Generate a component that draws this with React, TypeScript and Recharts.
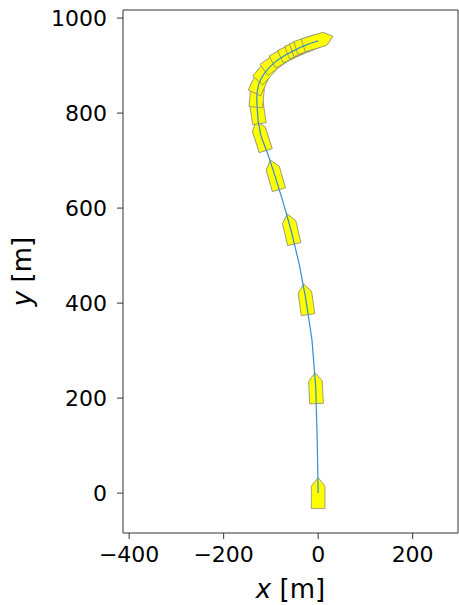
import React from 'react';
import {
  ComposedChart, Scatter, XAxis, YAxis, ReferenceArea, Label
} from 'recharts';

// trajectory of the vessel [m]
const pathX = [0, -2, -5, -13, -26, -40, -58, -75, -92, -107, -121, -127, -129, -130, -129, -126, -121, -114, -106, -97, -88, -68, -50, -34, -16, 0];
const pathY = [0, 112, 221, 322, 408, 482, 556, 615, 670, 715, 752, 782, 810, 830, 845, 860, 872, 883, 893, 902, 910, 923, 932, 940, 947, 952];

// ship snapshots: position [m] and heading [deg, clockwise from north]
const shipX = [0, -5, -26, -58, -92, -121, -129, -129, -121, -106, -88, -68, -50, -35, -25, -16, 0];
const shipY = [0, 221, 408, 556, 670, 752, 810, 845, 872, 893, 910, 923, 932, 939, 943, 947, 952];
const shipHeading = [0, -3, -8, -13, -16, -18, -8, 5, 25, 42, 54, 62, 66, 69, 71, 72, 73];

const xTicks = [-400, -200, 0, 200];
const yTicks = [0, 200, 400, 600, 800, 1000];
const X_DOMAIN: [number, number] = [-413, 296];
const Y_DOMAIN: [number, number] = [-84, 1017];

const path = pathX.map((x, i) => ({ x, y: pathY[i] }));
const ships = shipX.map((x, i) => ({ x, y: shipY[i], heading: shipHeading[i] }));

const FONT = '"DejaVu Sans", sans-serif';
const fmt = (v: number) => String(v).replace('-', '\u2212');

// ship outline in pixels, bow pointing up
const L = 15.5, B = 6.8, S = 7;
const shipPoints = `0,${-L} ${B},${-S} ${B},${L} ${-B},${L} ${-B},${-S}`;

const ShipShape = (props: any) => {
  const { cx, cy, payload } = props;
  if (cx == null || cy == null) return <g />;
  return (
    <polygon
      points={shipPoints}
      transform={`translate(${cx},${cy}) rotate(${payload.heading})`}
      fill="#ffff00"
      stroke="#8c8c7c"
      strokeWidth={0.8}
    />
  );
};

const NoDot = () => <g />;

const XLabel = (props: any) => {
  const { viewBox } = props;
  const cx = viewBox.x + viewBox.width / 2;
  return (
    <text x={cx} y={598} textAnchor="middle" fontFamily={FONT} fontSize={26} fill="#000">
      <tspan fontStyle="italic">x</tspan> [m]
    </text>
  );
};

const YLabel = (props: any) => {
  const { viewBox } = props;
  const cy = viewBox.y + viewBox.height / 2;
  return (
    <text x={31} y={cy} textAnchor="middle" fontFamily={FONT} fontSize={26} fill="#000"
      transform={`rotate(-90, 31, ${cy})`}>
      <tspan fontStyle="italic">y</tspan> [m]
    </text>
  );
};

export default function App() {
  const tick = { fontSize: 22, fill: '#000', fontFamily: FONT };
  return (
    <div style={{ position: 'absolute', left: 0, top: 0, background: '#fff' }}>
      <ComposedChart width={459} height={605} margin={{ top: 10, right: 1, bottom: 0, left: 0 }}>
        <XAxis
          type="number" dataKey="x" domain={X_DOMAIN} ticks={xTicks} tickFormatter={fmt}
          allowDataOverflow height={72} tick={tick} tickSize={6} tickMargin={7}
          tickLine={{ stroke: '#333' }} axisLine={false}
        >
          <Label content={<XLabel />} />
        </XAxis>
        <YAxis
          type="number" dataKey="y" domain={Y_DOMAIN} ticks={yTicks} tickFormatter={fmt}
          allowDataOverflow width={123} tick={tick} tickSize={6} tickMargin={10}
          tickLine={{ stroke: '#333' }} axisLine={false}
        >
          <Label content={<YLabel />} />
        </YAxis>
        <ReferenceArea
          x1={X_DOMAIN[0]} x2={X_DOMAIN[1]} y1={Y_DOMAIN[0]} y2={Y_DOMAIN[1]}
          fill="none" stroke="#333" strokeWidth={1} fillOpacity={0}
        />
        <Scatter data={ships} shape={<ShipShape />} isAnimationActive={false} />
        <Scatter
          data={path} line={{ stroke: '#3b8bd0', strokeWidth: 1.2 }}
          shape={<NoDot />} isAnimationActive={false}
        />
      </ComposedChart>
    </div>
  );
}
